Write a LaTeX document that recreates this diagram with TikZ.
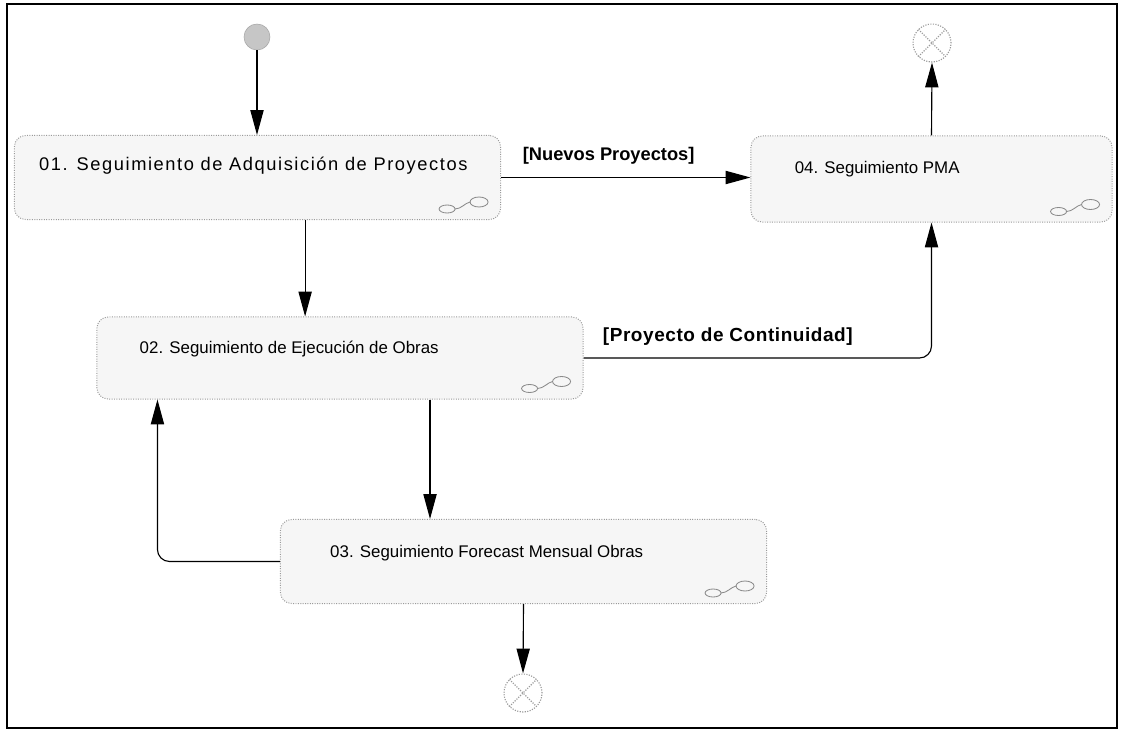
\documentclass[tikz,border=0pt]{standalone}
\usepackage{fontspec}
\setmainfont{Liberation Sans}
\usetikzlibrary{arrows.meta,positioning,calc}
\definecolor{boxLine}{HTML}{9A9A9A}
\definecolor{boxFill}{HTML}{F6F6F6}
\definecolor{iconLine}{HTML}{8A8A8A}

\tikzset{
  proc/.style={draw=boxLine,densely dotted,line width=0.7pt,fill=boxFill,
    rounded corners=0.28cm,minimum width=12.15cm,minimum height=2.1cm},
  procname/.style={anchor=west,inner sep=0pt,font=\fontsize{12}{15}\selectfont},
  guard/.style={inner sep=0pt,font=\bfseries\fontsize{13}{16}\selectfont},
  flow/.style={-{Triangle[length=0.62cm,width=0.33cm]},line width=0.8pt},
  startnode/.style={circle,draw=gray!70,fill=gray!45,minimum size=0.65cm,inner sep=0pt},
  endnode/.style={circle,draw=gray!80,densely dotted,line width=0.8pt,fill=white,
    minimum size=0.95cm,inner sep=0pt,
    path picture={\draw[gray!80,line width=0.8pt]
      (path picture bounding box.south west) -- (path picture bounding box.north east)
      (path picture bounding box.north west) -- (path picture bounding box.south east);}},
  subicon/.pic={
    \draw[iconLine,line width=0.6pt] (-54,-11) ellipse (8 and 4);
    \draw[iconLine,line width=0.6pt] (-22,-18) ellipse (9 and 5);
    \draw[iconLine,line width=0.6pt] (-46,-11) .. controls (-40,-11) and (-36,-17) .. (-31,-18);
  }
}

\begin{document}
\begin{tikzpicture}[x=0.025cm,y=-0.025cm,>=Stealth]
  \useasboundingbox (0,0) rectangle (1123,734);
  \draw[line width=1pt] (7,4) rectangle (1117,728);

  % activities
  \node[proc] (adq) at (257.5,177.5) {};
  \node[proc,minimum width=9.025cm,minimum height=2.15cm] (pma) at (931.5,179) {};
  \node[proc,minimum height=2.05cm] (ejec) at (340,358) {};
  \node[proc] (fcst) at (523.5,561.5) {};

  \node[procname,font=\fontsize{13}{16}\selectfont\addfontfeatures{LetterSpace=8.6}] (adqT)
    at ([xshift=0.625cm,yshift=-0.775cm]adq.north west) {01. Seguimiento de Adquisición de Proyectos};
  \node[procname] (pmaT) at ([xshift=1.1cm,yshift=-0.85cm]pma.north west) {04. Seguimiento PMA};
  \node[procname] (ejecT) at ([xshift=1.075cm,yshift=-0.825cm]ejec.north west) {02. Seguimiento de Ejecución de Obras};
  \node[procname] (fcstT) at ([xshift=1.25cm,yshift=-0.85cm]fcst.north west) {03. Seguimiento Forecast Mensual Obras};

  \pic at (adq.south east) {subicon};
  \pic at (pma.south east) {subicon};
  \pic at (ejec.south east) {subicon};
  \pic at (fcst.south east) {subicon};

  % start and ends
  \node[startnode] (start) at (257,37) {};
  \node[endnode] (endA) at (932,43) {};
  \node[endnode] (endB) at (523,693) {};

  % flows
  \coordinate (d1) at ([xshift=1.19cm]adq.south);
  \coordinate (d2) at ([xshift=2.25cm]ejec.south);
  \coordinate (d3) at ([xshift=1.525cm]ejec.south west);

  \draw[flow] (start) -- (start |- adq.north);
  \draw[flow] (adq.east) -- (adq.east -| pma.west)
    node[guard,pos=0.085,anchor=south west,yshift=0.32cm] (lblNuevos) {[Nuevos Proyectos]};
  \draw[flow] (d1) -- (d1 |- ejec.north);
  \draw[flow,rounded corners=0.3cm] (ejec.east) -| (pma.south)
    node[guard,pos=0.027,anchor=south west,yshift=0.3cm,
      font=\bfseries\fontsize{13.5}{16}\selectfont\addfontfeatures{LetterSpace=3}] (lblCont) {[Proyecto de Continuidad]};
  \draw[flow] (d2) -- (d2 |- fcst.north);
  \draw[flow,rounded corners=0.3cm] (fcst.west) -| (d3);
  \draw[flow] (fcst.south) -- (endB.north);
  \draw[flow] (pma.north) -- (endA.south);
\end{tikzpicture}
\end{document}
